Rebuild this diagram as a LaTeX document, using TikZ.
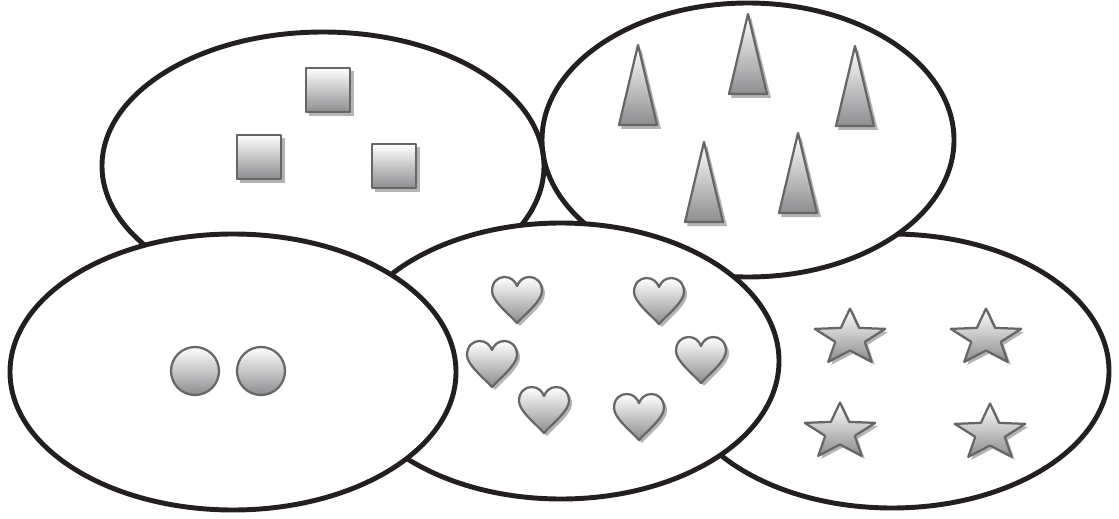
\documentclass[tikz,border=0pt]{standalone}
\definecolor{rim}{HTML}{231F20}
\definecolor{edge}{HTML}{666666}
\definecolor{drop}{HTML}{B4B4B4}
\definecolor{low}{HTML}{8D8D90}
\tikzset{
  set/.style={line width=3.5pt, draw=rim, fill=white},
  token/.style={draw=edge, line width=1.6pt, top color=white, bottom color=low, line join=round},
  shadow/.style={fill=drop, draw=none},
  box/.pic={
    \fill[shadow] (-19,-19) rectangle (26,26);
    \path[token] (-22,-22) rectangle (22,22);
  },
  cone/.pic={
    \fill[shadow] (3,-37) -- (23,44) -- (-17,44) -- cycle;
    \path[token] (0,-40) -- (19,40) -- (-19,40) -- cycle;
  },
  dot/.pic={
    \path[token] (0,0) circle (24);
  },
  heart/.pic={
    \foreach \d/\st in {3/shadow,0/token}
      \path[\st, shift={(\d,\d)}] (0,23) .. controls (-8,14) and (-25,1) .. (-25,-9)
        .. controls (-25,-18) and (-19,-23) .. (-12.5,-23)
        .. controls (-6,-23) and (-2,-19) .. (0,-14)
        .. controls (2,-19) and (6,-23) .. (12.5,-23)
        .. controls (19,-23) and (25,-18) .. (25,-9)
        .. controls (25,1) and (8,14) .. (0,23) -- cycle;
  },
  star/.pic={
    \foreach \d/\st in {3/shadow,0/token}
      \path[\st, shift={(\d,\d+1)}] plot[samples at={0,...,9}, variable=\k]
        ({(mod(\k,2)==0 ? 37 : 15.5)*cos(90+36*\k)}, {-(mod(\k,2)==0 ? 29.5 : 12.5)*sin(90+36*\k)}) -- cycle;
  },
}
\begin{document}
\begin{tikzpicture}[x=0.025cm, y=-0.025cm]
\useasboundingbox (0,0) rectangle (1119,519);
\coordinate (squares) at (323,166);
\coordinate (cones) at (748,140);
\coordinate (dots) at (233,372);
\coordinate (hearts) at (561,361);
\coordinate (stars) at (892,371);
% sets, back to front
\draw[set] (stars) ellipse [x radius=217, y radius=137];
\fill[white] (cones) ellipse [x radius=206, y radius=137];
\fill[white] (squares) ellipse [x radius=221, y radius=134];
\draw[set, fill=none] (cones) ellipse [x radius=206, y radius=137];
\draw[set, fill=none] (squares) ellipse [x radius=221, y radius=134];
\draw[set] (hearts) ellipse [x radius=218, y radius=138];
\draw[set] (dots) ellipse [x radius=223, y radius=138];
% members
\foreach \px/\py in {328/90, 259/157, 394/166}
  \pic at (\px,\py) {box};
\foreach \px/\py in {638/85, 748/54, 855/86, 704/182, 798/173}
  \pic at (\px,\py) {cone};
\foreach \px in {195, 261}
  \pic at (\px,371) {dot};
\foreach \px/\py in {517/300, 659/301, 492/364, 544/410, 639/417, 701/360}
  \pic at (\px,\py) {heart};
\foreach \px/\py in {850/337, 986/337, 840/431, 990/432}
  \pic at (\px,\py) {star};
\end{tikzpicture}
\end{document}
